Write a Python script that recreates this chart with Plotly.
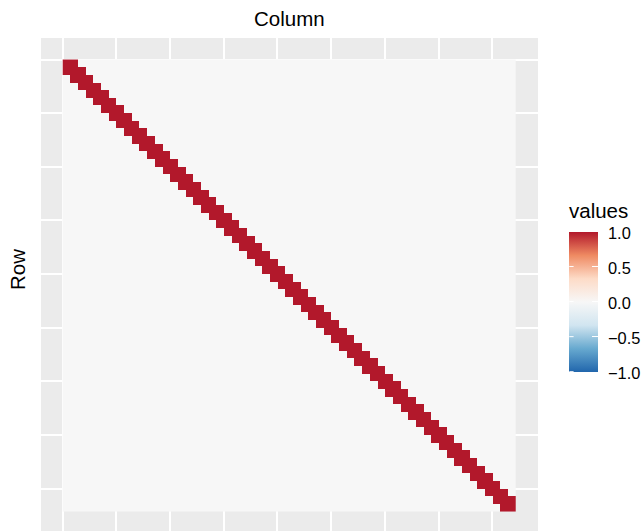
import plotly.graph_objects as go

# Correlation-style matrix: 59 rows x 59 columns, value 1 on the narrow
# band around the diagonal and 0 everywhere else.
row_ids = list(range(1, 60))
col_ids = list(range(1, 60))
band_offsets = [-1, 0, 1]
band_value = 1.0
off_band_value = 0.0

z = [[band_value if (c - r) in band_offsets else off_band_value for c in col_ids]
     for r in row_ids]

# Grid breaks (no labels shown on either axis)
grid_breaks = [0.5, 7.5, 14.5, 21.5, 28.5, 35.5, 42.5, 49.5, 56.5]

# Colour bar ticks
legend_ticks = [-1.0, -0.5, 0.0, 0.5, 1.0]
legend_labels = ["\u22121.0", "\u22120.5", "0.0", "0.5", "1.0"]

# RdBu diverging palette, blue (-1) to red (+1)
rdbu = ["#2166AC", "#67A9CF", "#D1E5F0", "#F7F7F7", "#FDDBC7", "#EF8A62", "#B2182B"]
colorscale = [[i / (len(rdbu) - 1), c] for i, c in enumerate(rdbu)]

W, H = 644, 531
ML, MR, MT, MB = 41, 106, 38, 0
PW, PH = W - ML - MR, H - MT - MB

def px_x(p):
    return (p - ML) / PW

def px_y(p):
    return (H - MB - p) / PH

FONT = "Liberation Sans, Arial, sans-serif"
TITLE_SIZE = 20.5
LABEL_SIZE = 16.4

# colour bar geometry (pixels)
bar_left, bar_w = 569.3, 29
bar_top, bar_bot = 231.5, 371.7

fig = go.Figure()
fig.add_trace(go.Heatmap(
    x=col_ids, y=row_ids, z=z,
    zmin=-1, zmax=1,
    colorscale=colorscale,
    xgap=0, ygap=0,
    hoverinfo="skip",
    colorbar=dict(
        x=px_x(bar_left), xanchor="left", xpad=0,
        y=px_y((bar_top + bar_bot) / 2), yanchor="middle", ypad=0,
        lenmode="pixels", len=bar_bot - bar_top,
        thickness=bar_w,
        outlinewidth=0,
        tickmode="array", tickvals=legend_ticks,
        ticks="inside", ticklen=5.8, tickwidth=1, tickcolor="white",
        showticklabels=False,
    ),
))

annotations = []
for v, lab in zip(legend_ticks, legend_labels):
    yy = bar_bot - (v + 1) / 2 * (bar_bot - bar_top)
    annotations.append(dict(
        x=px_x(606.0), y=px_y(yy + 1.2), xref="paper", yref="paper",
        text=lab, showarrow=False, xanchor="left", yanchor="middle",
        font=dict(family=FONT, size=LABEL_SIZE, color="black"),
    ))
    # white tick on the left edge of the bar
    annotations.append(dict(
        x=px_x(bar_left), y=px_y(yy), xref="paper", yref="paper",
        text="", showarrow=True, arrowhead=0, arrowwidth=1,
        arrowcolor="white", ax=5.8, ay=0, standoff=0, startstandoff=0,
    ))

annotations.append(dict(
    x=px_x(566.5), y=px_y(210.5), xref="paper", yref="paper",
    text="values", showarrow=False, xanchor="left", yanchor="middle",
    font=dict(family=FONT, size=TITLE_SIZE, color="black"),
))
annotations.append(dict(
    x=px_x(289.4), y=px_y(18.5), xref="paper", yref="paper",
    text="Column", showarrow=False, xanchor="center", yanchor="middle",
    font=dict(family=FONT, size=TITLE_SIZE, color="black"),
))
annotations.append(dict(
    x=px_x(17), y=px_y(270), xref="paper", yref="paper",
    text="Row", showarrow=False, xanchor="center", yanchor="middle",
    textangle=-90,
    font=dict(family=FONT, size=TITLE_SIZE, color="black"),
))

fig.update_layout(
    width=W, height=H,
    margin=dict(l=ML, r=MR, t=MT, b=MB, pad=0),
    paper_bgcolor="white",
    plot_bgcolor="#EBEBEB",
    annotations=annotations,
    font=dict(family=FONT),
)
fig.update_xaxes(
    range=[-2.33, 62.46], tickmode="array", tickvals=grid_breaks,
    showticklabels=False, ticks="", showgrid=True, gridcolor="white",
    gridwidth=1.5, zeroline=False, showline=False,
)
fig.update_yaxes(
    range=[62.04, -2.31], tickmode="array", tickvals=grid_breaks,
    showticklabels=False, ticks="", showgrid=True, gridcolor="white",
    gridwidth=1.5, zeroline=False, showline=False,
)

fig.write_html("out.html")
